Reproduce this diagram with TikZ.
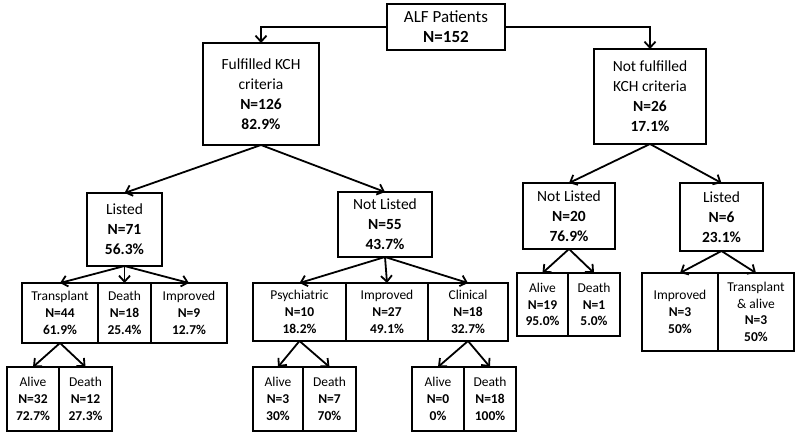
\documentclass[tikz,border=0pt]{standalone}
\usepackage{fontspec}
\setmainfont{Carlito}
\usetikzlibrary{arrows.meta,positioning}
\tikzset{>={Straight Barb[length=6pt,width=11pt]},
  cell/.style={draw,rectangle,inner sep=0pt,outer sep=0pt,align=center},
  rootbox/.style={cell,font=\fontsize{17}{20}\selectfont},
  midbox/.style={cell,font=\fontsize{15.5}{20}\selectfont},
  leafbox/.style={cell,font=\fontsize{13.5}{16.7}\selectfont}}

\begin{document}
\begin{tikzpicture}[x=1pt,y=-1pt,line width=1.8pt]
  \useasboundingbox (0,0) rectangle (800,436);
  % top levels
  \node [rootbox,minimum width=118pt,minimum height=46pt] (alf) at (446,27)
    {ALF Patients\\\textbf{N=152}};
  \node [midbox,minimum width=116pt,minimum height=102pt] (kch) at (261,94)
    {Fulfilled KCH\\criteria\\\textbf{N=126}\\\textbf{82.9\%}};
  \node [midbox,minimum width=112pt,minimum height=95pt] (nokch) at (650,96.5)
    {Not fulfilled\\KCH criteria\\\textbf{N=26}\\\textbf{17.1\%}};

  \node [midbox,minimum width=75pt,minimum height=73pt] (listed) at (124.5,229.5)
    {Listed\\\textbf{N=71}\\\textbf{56.3\%}};
  \node [midbox,minimum width=94pt,minimum height=65pt] (notlisted) at (385,224.5)
    {Not Listed\\\textbf{N=55}\\\textbf{43.7\%}};
  \node [midbox,minimum width=92pt,minimum height=66pt] (notlistedb) at (569,216)
    {Not Listed\\\textbf{N=20}\\\textbf{76.9\%}};
  \node [midbox,minimum width=83pt,minimum height=68pt] (listedb) at (721.5,217)
    {Listed\\\textbf{N=6}\\\textbf{23.1\%}};

  % outcome rows
  \node [leafbox,minimum width=76pt,minimum height=60pt] (transpl) at (60,313)
    {Transplant\\\textbf{N=44}\\\textbf{61.9\%}};
  \node [leafbox,minimum width=53pt,minimum height=60pt,right=0pt of transpl] (deathl)
    {Death\\\textbf{N=18}\\\textbf{25.4\%}};
  \node [leafbox,minimum width=76pt,minimum height=60pt,right=0pt of deathl] (imprl)
    {Improved\\\textbf{N=9}\\\textbf{12.7\%}};

  \node [leafbox,minimum width=93pt,minimum height=58pt] (psych) at (299.5,312)
    {Psychiatric\\\textbf{N=10}\\\textbf{18.2\%}};
  \node [leafbox,minimum width=82pt,minimum height=58pt,right=0pt of psych] (imprn)
    {Improved\\\textbf{N=27}\\\textbf{49.1\%}};
  \node [leafbox,minimum width=80pt,minimum height=58pt,right=0pt of imprn] (clin)
    {Clinical\\\textbf{N=18}\\\textbf{32.7\%}};

  \node [leafbox,minimum width=51pt,minimum height=63pt] (aliveb) at (542.5,304.5)
    {Alive\\\textbf{N=19}\\\textbf{95.0\%}};
  \node [leafbox,minimum width=52pt,minimum height=63pt,right=0pt of aliveb] (deathb)
    {Death\\\textbf{N=1}\\\textbf{5.0\%}};

  \node [leafbox,minimum width=76pt,minimum height=78pt] (imprb) at (680,312)
    {Improved\\\textbf{N=3}\\\textbf{50\%}};
  \node [leafbox,minimum width=76pt,minimum height=78pt,right=0pt of imprb] (transb)
    {Transplant\\\& alive\\\textbf{N=3}\\\textbf{50\%}};

  % bottom row
  \node [leafbox,minimum width=52pt,minimum height=64pt] (alivet) at (33,399)
    {Alive\\\textbf{N=32}\\\textbf{72.7\%}};
  \node [leafbox,minimum width=53pt,minimum height=64pt,right=0pt of alivet] (deatht)
    {Death\\\textbf{N=12}\\\textbf{27.3\%}};
  \node [leafbox,minimum width=50pt,minimum height=64pt] (alivep) at (278,399)
    {Alive\\\textbf{N=3}\\\textbf{30\%}};
  \node [leafbox,minimum width=53pt,minimum height=64pt,right=0pt of alivep] (deathp)
    {Death\\\textbf{N=7}\\\textbf{70\%}};
  \node [leafbox,minimum width=52pt,minimum height=64pt] (alivec) at (438,399)
    {Alive\\\textbf{N=0}\\\textbf{0\%}};
  \node [leafbox,minimum width=52pt,minimum height=64pt,right=0pt of alivec] (deathc)
    {Death\\\textbf{N=18}\\\textbf{100\%}};

  % connectors
  \draw [->] (alf.west) -| (kch.north);
  \draw [->] (alf.east) -| (nokch.north);
  \path
    (kch.south) edge [->] (listed.north)
    (kch.south) edge [->] (notlisted.north)
    (nokch.south) edge [->] (notlistedb.north)
    (nokch.south) edge [->] (listedb.north)
    (listed.south) edge [->] (transpl.north)
    (listed.south) edge [->] (deathl.north)
    (listed.south) edge [->] (imprl.north)
    (notlisted.south) edge [->] (psych.north)
    (notlisted.south) edge [->] (imprn.north)
    (notlisted.south) edge [->] (clin.north)
    (notlistedb.south) edge [->] (aliveb.north)
    (notlistedb.south) edge [->] (deathb.north)
    (listedb.south) edge [->] (imprb.north)
    (listedb.south) edge [->] (transb.north)
    (transpl.south) edge [->] (alivet.north)
    (transpl.south) edge [->] (deatht.north)
    (psych.south) edge [->] (alivep.north)
    (psych.south) edge [->] (deathp.north)
    (clin.south) edge [->] (alivec.north)
    (clin.south) edge [->] (deathc.north);
\end{tikzpicture}
\end{document}
